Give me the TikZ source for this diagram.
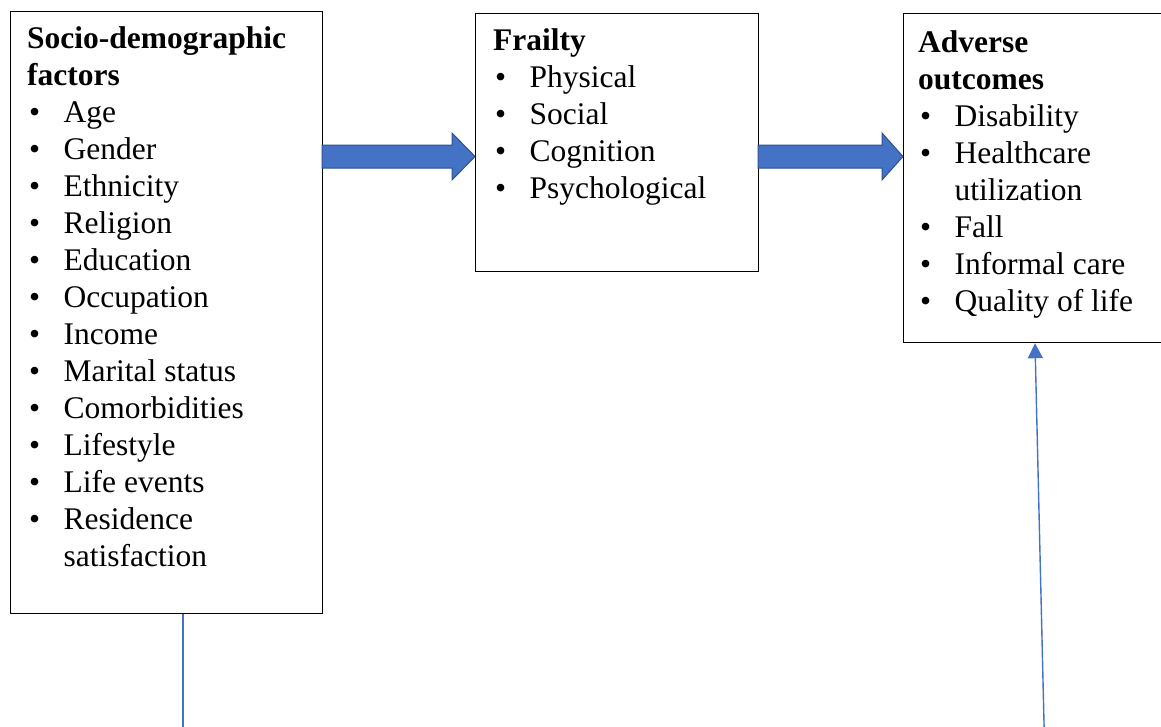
\documentclass[tikz,border=0pt]{standalone}
\usepackage{fontspec}
\setmainfont{Liberation Serif}
\usetikzlibrary{arrows.meta,calc}
\definecolor{accent}{HTML}{4472C4}
\definecolor{accentdark}{HTML}{2F528F}
\newcommand{\itm}[1]{\makebox[36.5pt][l]{\hspace{2pt}\textbullet}#1}
\newcommand{\cont}[1]{\hspace{36.5pt}#1}
\begin{document}
\begin{tikzpicture}[x=1pt,y=-1pt,
  box/.style={draw=black,line width=1.2pt,fill=white,anchor=north west,inner sep=0pt},
  txt/.style={anchor=base west,inner sep=0pt,font=\fontsize{31.5}{37}\selectfont},
  blockarrow/.style={fill=accent,draw=accentdark,line width=1pt,line join=miter},
  thinline/.style={draw=accent,line width=1.4pt}]
\useasboundingbox (0,0) rectangle (1161,726);
\clip (0,0) rectangle (1161,726);
\fill[white] (0,0) rectangle (1161,726);
% boxes
\node[box,minimum width=312pt,minimum height=602pt] (b1) at (10,11) {};
\node[box,minimum width=283pt,minimum height=258pt] (b2) at (475,13) {};
\node[box,minimum width=300pt,minimum height=329pt] (b3) at (903,13) {};
% texts
\node[txt] (t1) at (27,48) {\begin{tabular}[t]{@{}l@{}}
\textbf{Socio-demographic}\\
\textbf{factors}\\
\itm{Age}\\
\itm{Gender}\\
\itm{Ethnicity}\\
\itm{Religion}\\
\itm{Education}\\
\itm{Occupation}\\
\itm{Income}\\
\itm{Marital status}\\
\itm{Comorbidities}\\
\itm{Lifestyle}\\
\itm{Life events}\\
\itm{Residence}\\
\cont{satisfaction}
\end{tabular}};
\node[txt] (t2) at (493,50) {\begin{tabular}[t]{@{}l@{}}
\textbf{Frailty}\\
\itm{Physical}\\
\itm{Social}\\
\itm{Cognition}\\
\itm{Psychological}
\end{tabular}};
\node[txt] (t3) at (918,52) {\begin{tabular}[t]{@{}l@{}}
\textbf{Adverse}\\
\textbf{outcomes}\\
\itm{Disability}\\
\itm{Healthcare}\\
\cont{utilization}\\
\itm{Fall}\\
\itm{Informal care}\\
\itm{Quality of life}
\end{tabular}};
% block arrows
\coordinate (a1s) at (b1.east |- 0,156.5);
\coordinate (a1e) at (b2.west |- 0,156.5);
\coordinate (a2s) at (b2.east |- 0,156.5);
\coordinate (a2e) at (b3.west |- 0,156.5);
\path[blockarrow] ($(a1s)+(-1,-11.5)$) -- ($(a1e)+(-23,-11.5)$) -- ($(a1e)+(-23,-23.5)$) -- (a1e)
  -- ($(a1e)+(-23,23.5)$) -- ($(a1e)+(-23,11.5)$) -- ($(a1s)+(-1,11.5)$) -- cycle;
\path[blockarrow] ($(a2s)+(-1,-11.5)$) -- ($(a2e)+(-21,-11.5)$) -- ($(a2e)+(-21,-23.5)$) -- (a2e)
  -- ($(a2e)+(-21,23.5)$) -- ($(a2e)+(-21,11.5)$) -- ($(a2s)+(-1,11.5)$) -- cycle;
% thin connectors
\coordinate (l1top) at (b1.south -| 183,0);
\coordinate (l1end) at (183,740);
\draw[thinline] (l1top) -- (l1end);
\coordinate (l2top) at (b3.south -| 1035,0);
\coordinate (l2end) at (1044.4,740);
\draw[thinline,-{Triangle[length=15pt,width=15pt]}] (l2end) -- (l2top);
\end{tikzpicture}
\end{document}
